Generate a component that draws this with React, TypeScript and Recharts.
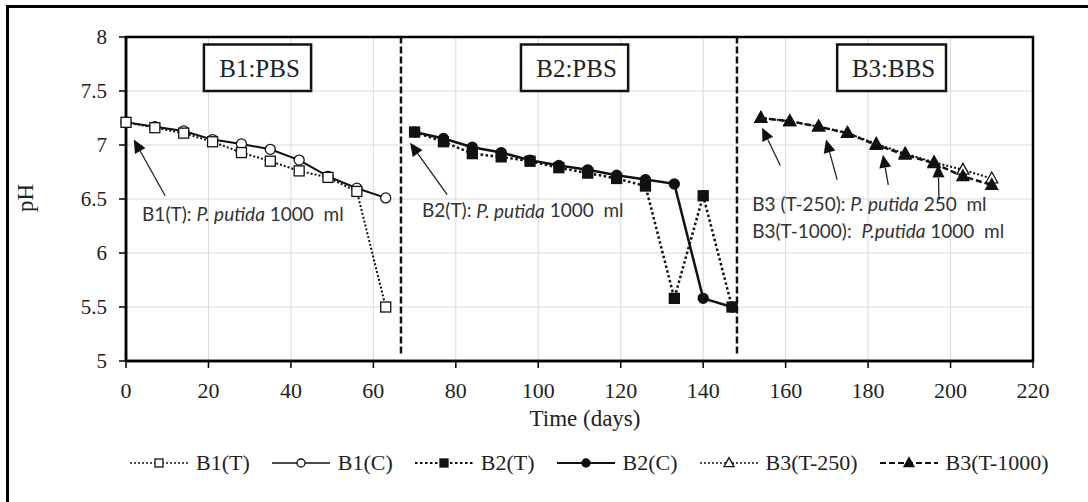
import React from 'react';
import {
  LineChart,
  Line,
  XAxis,
  YAxis,
  CartesianGrid,
  ReferenceLine,
  ReferenceArea,
  ReferenceDot,
  Legend,
} from 'recharts';

// sampling days per batch
const b1Days = [0, 7, 14, 21, 28, 35, 42, 49, 56, 63];
const b2Days = [70, 77, 84, 91, 98, 105, 112, 119, 126, 133, 140, 147];
const b3Days = [154, 161, 168, 175, 182, 189, 196, 203, 210];

// pH readings
const b1T = [7.21, 7.16, 7.11, 7.03, 6.93, 6.85, 6.76, 6.7, 6.57, 5.5];
const b1C = [7.21, 7.17, 7.13, 7.05, 7.01, 6.96, 6.86, 6.71, 6.6, 6.51];
const b2T = [7.12, 7.03, 6.92, 6.89, 6.85, 6.79, 6.74, 6.69, 6.62, 5.58, 6.53, 5.5];
const b2C = [7.12, 7.06, 6.98, 6.93, 6.86, 6.81, 6.77, 6.72, 6.68, 6.64, 5.58, 5.5];
const b3T250 = [7.25, 7.22, 7.17, 7.11, 7.01, 6.92, 6.84, 6.77, 6.69];
const b3T1000 = [7.25, 7.22, 7.17, 7.11, 7.0, 6.91, 6.83, 6.71, 6.63];

const xTicks = [0, 20, 40, 60, 80, 100, 120, 140, 160, 180, 200, 220];
const yTicks = [5, 5.5, 6, 6.5, 7, 7.5, 8];

// batch dividers and title boxes
const batchSplits = [66.7, 148.2];
const batchBoxes = [
  { label: 'B1:PBS', x1: 18.9, x2: 44.9 },
  { label: 'B2:PBS', x1: 95.8, x2: 121.8 },
  { label: 'B3:BBS', x1: 172.5, x2: 198.9 },
];

// arrows: tail -> tip, in data units
const arrows = [
  { from: [9.5, 6.53], to: [1.9, 7.05] },
  { from: [77.9, 6.54], to: [68.9, 7.02] },
  { from: [158.7, 6.81], to: [154.3, 7.16] },
  { from: [172.5, 6.68], to: [169.8, 7.05] },
  { from: [184.9, 6.63], to: [183.6, 6.91] },
  { from: [197.2, 6.49], to: [197.0, 6.82] },
];

const notes = [
  { day: 3.9, ph: 6.37, pre: 'B1(T): ', it: 'P. putida', post: ' 1000  ml' },
  { day: 71.8, ph: 6.4, pre: 'B2(T): ', it: 'P. putida', post: ' 1000  ml' },
  { day: 151.9, ph: 6.46, pre: 'B3 (T-250): ', it: 'P. putida', post: ' 250  ml' },
  { day: 151.9, ph: 6.21, pre: 'B3(T-1000):  ', it: 'P.putida', post: ' 1000  ml' },
];

const SERIF = '"Liberation Serif", "Times New Roman", serif';
const SANS = 'Lato, "Liberation Sans", sans-serif';
const INK = '#222';

const toPoints = (days: number[], vals: number[]) =>
  days.map((d, i) => ({ day: d, ph: vals[i] }));

type MarkerShape = 'square' | 'circle' | 'triangle';

function Marker({ cx, cy, shape, filled, size }: { cx: number; cy: number; shape: MarkerShape; filled: boolean; size: number }) {
  const fill = filled ? '#111' : '#fff';
  const sw = 1.3;
  if (shape === 'square') {
    return <rect x={cx - size / 2} y={cy - size / 2} width={size} height={size} fill={fill} stroke="#111" strokeWidth={sw} />;
  }
  if (shape === 'circle') {
    return <circle cx={cx} cy={cy} r={size / 2} fill={fill} stroke="#111" strokeWidth={sw} />;
  }
  const h = size * 0.9;
  return (
    <polygon
      points={`${cx},${cy - h * 0.6} ${cx - size / 2},${cy + h * 0.4} ${cx + size / 2},${cy + h * 0.4}`}
      fill={fill}
      stroke="#111"
      strokeWidth={sw}
    />
  );
}

const series = [
  { name: 'B1(T)', days: b1Days, vals: b1T, dash: '2 2', width: 2, shape: 'square' as MarkerShape, filled: false, size: 10 },
  { name: 'B1(C)', days: b1Days, vals: b1C, dash: undefined, width: 2, shape: 'circle' as MarkerShape, filled: false, size: 10 },
  { name: 'B2(T)', days: b2Days, vals: b2T, dash: '2.5 2.5', width: 2.5, shape: 'square' as MarkerShape, filled: true, size: 10 },
  { name: 'B2(C)', days: b2Days, vals: b2C, dash: undefined, width: 2.5, shape: 'circle' as MarkerShape, filled: true, size: 10 },
  { name: 'B3(T-250)', days: b3Days, vals: b3T250, dash: '2 2', width: 2, shape: 'triangle' as MarkerShape, filled: false, size: 12 },
  { name: 'B3(T-1000)', days: b3Days, vals: b3T1000, dash: '6 3', width: 2.5, shape: 'triangle' as MarkerShape, filled: true, size: 12 },
];

// draw order: controls go under treatments
const drawOrder = ['B1(C)', 'B1(T)', 'B2(C)', 'B2(T)', 'B3(T-250)', 'B3(T-1000)'];

function Arrow(props: any) {
  const { x1, y1, x2, y2 } = props;
  const ang = Math.atan2(y2 - y1, x2 - x1);
  const len = 13;
  const half = 6;
  const bx = x2 - len * Math.cos(ang);
  const by = y2 - len * Math.sin(ang);
  const px = -Math.sin(ang) * half;
  const py = Math.cos(ang) * half;
  return (
    <g>
      <line x1={x1} y1={y1} x2={bx} y2={by} stroke="#222" strokeWidth={1.3} />
      <polygon points={`${x2},${y2} ${bx + px},${by + py} ${bx - px},${by - py}`} fill="#111" />
    </g>
  );
}

function BoxLabel({ viewBox, text }: any) {
  const { x, y, width, height } = viewBox;
  return (
    <text
      x={x + width / 2 + 2}
      y={y + height / 2 + 1}
      textAnchor="middle"
      dominantBaseline="central"
      fontFamily={SERIF}
      fontSize={25}
      fill={INK}
    >
      {text}
    </text>
  );
}

function LegendContent() {
  return (
    <div style={{ display: 'flex', alignItems: 'center', gap: 22, fontFamily: SERIF, fontSize: 22, color: INK }}>
      {series.map((s) => (
        <div key={s.name} style={{ display: 'flex', alignItems: 'center' }}>
          <svg width={58} height={20}>
            <line x1={0} y1={10} x2={58} y2={10} stroke="#111" strokeWidth={s.width - 0.3} strokeDasharray={s.dash} />
            <Marker cx={29} cy={10} shape={s.shape} filled={s.filled} size={s.size - 2} />
          </svg>
          <span style={{ marginLeft: 8 }}>{s.name}</span>
        </div>
      ))}
    </div>
  );
}

export default function App() {
  return (
    <div style={{ position: 'absolute', left: 0, top: 0, width: 1088, height: 502, overflow: 'hidden', background: '#fff' }}>
      <div
        style={{
          position: 'absolute',
          left: 6,
          top: 5,
          width: 1200,
          height: 700,
          borderLeft: '3px solid #000',
          borderTop: '3px solid #000',
        }}
      />
      <LineChart width={1088} height={502} margin={{ top: 37, right: 55, left: 0, bottom: 81 }}>
        <CartesianGrid stroke="#d9d9d9" strokeWidth={1} />
        <XAxis
          type="number"
          dataKey="day"
          domain={[0, 220]}
          ticks={xTicks}
          allowDuplicatedCategory={false}
          height={60}
          tickSize={7}
          tickMargin={14}
          axisLine={{ stroke: '#000', strokeWidth: 2.5 }}
          tickLine={{ stroke: '#000', strokeWidth: 1.5 }}
          tick={{ fontFamily: SERIF, fontSize: 22, fill: INK }}
          label={{
            content: () => (
              <text x={585} y={426} textAnchor="middle" fontFamily={SERIF} fontSize={23} fill={INK}>
                Time (days)
              </text>
            ),
          }}
        />
        <YAxis
          type="number"
          domain={[5, 8]}
          ticks={yTicks}
          width={126}
          tickSize={7}
          tickMargin={12}
          axisLine={{ stroke: '#000', strokeWidth: 2.5 }}
          tickLine={{ stroke: '#000', strokeWidth: 1.5 }}
          tick={{ fontFamily: SERIF, fontSize: 21, fill: INK }}
          label={{
            content: () => (
              <text
                x={25}
                y={198}
                transform="rotate(-90 25 198)"
                textAnchor="middle"
                dominantBaseline="central"
                fontFamily={SERIF}
                fontSize={23}
                fill={INK}
              >
                pH
              </text>
            ),
          }}
        />
        <ReferenceArea x1={0} x2={220} y1={5} y2={8} fill="none" stroke="#000" strokeWidth={2.5} />
        {batchSplits.map((d) => (
          <ReferenceLine
            key={`split-${d}`}
            segment={[{ x: d, y: 5.07 }, { x: d, y: 8 }]}
            stroke="#111"
            strokeWidth={2.5}
            strokeDasharray="7 3"
          />
        ))}
        {batchBoxes.map((b) => (
          <ReferenceArea
            key={b.label}
            x1={b.x1}
            x2={b.x2}
            y1={7.5}
            y2={7.93}
            fill="#fff"
            fillOpacity={1}
            stroke="#111"
            strokeWidth={2.5}
            label={{ content: (p: any) => <BoxLabel viewBox={p.viewBox} text={b.label} /> }}
          />
        ))}
        {arrows.map((a, i) => (
          <ReferenceLine
            key={`arrow-${i}`}
            segment={[{ x: a.from[0], y: a.from[1] }, { x: a.to[0], y: a.to[1] }]}
            shape={Arrow}
          />
        ))}
        {notes.map((n, i) => (
          <ReferenceDot
            key={`note-${i}`}
            x={n.day}
            y={n.ph}
            r={0}
            shape={(p: any) => (
              <text
                x={p.cx}
                y={p.cy}
                dominantBaseline="central"
                fontFamily={SANS}
                fontSize={19}
                fill="#333"
                style={{ whiteSpace: 'pre' }}
              >
                {n.pre}
                <tspan fontStyle="italic">{n.it}</tspan>
                {n.post}
              </text>
            )}
          />
        ))}
        {drawOrder.map((name) => {
          const s = series.find((x) => x.name === name)!;
          return (
            <Line
              key={s.name}
              name={s.name}
              data={toPoints(s.days, s.vals)}
              dataKey="ph"
              type="linear"
              stroke="#111"
              strokeWidth={s.width}
              strokeDasharray={s.dash}
              isAnimationActive={false}
              activeDot={false}
              dot={(p: any) => (
                <Marker key={`${s.name}-${p.index}`} cx={p.cx} cy={p.cy} shape={s.shape} filled={s.filled} size={s.size} />
              )}
            />
          );
        })}
        <Legend
          layout="horizontal"
          verticalAlign="middle"
          align="center"
          wrapperStyle={{ left: 130, top: 450, width: 958 }}
          content={() => <LegendContent />}
        />
      </LineChart>
    </div>
  );
}
